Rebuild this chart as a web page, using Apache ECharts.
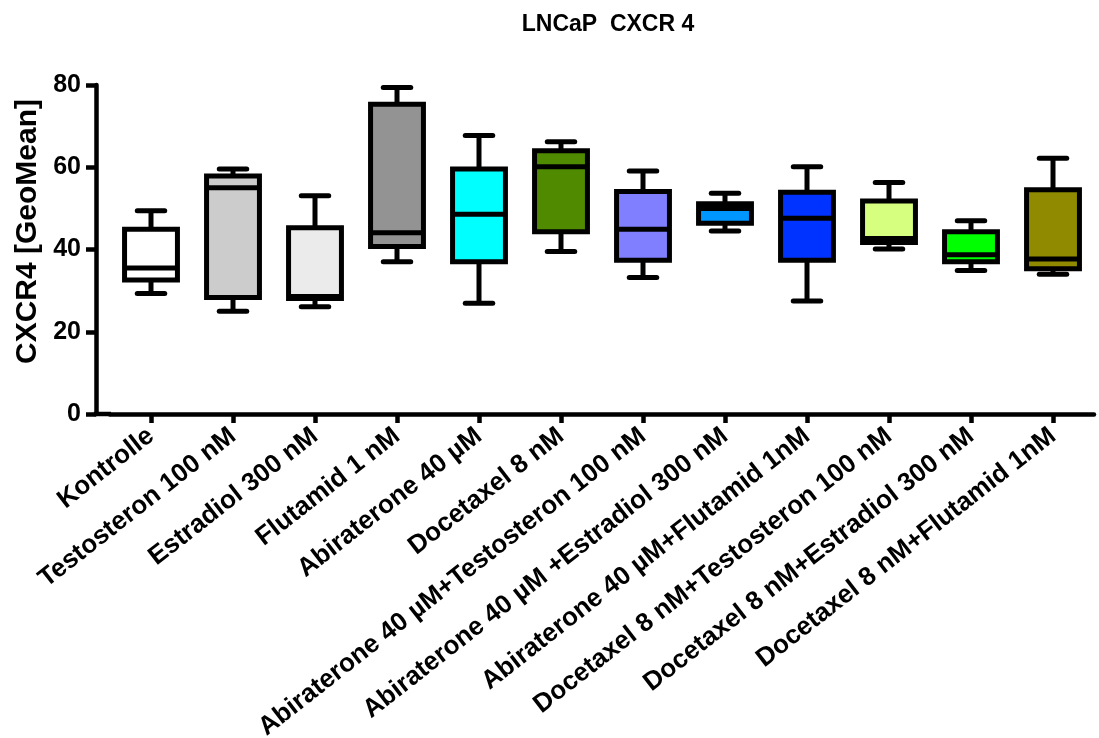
<!DOCTYPE html>
<html><head><meta charset="utf-8">
<script src="https://cdn.jsdelivr.net/npm/echarts@6/dist/echarts.min.js"></script>
<style>html,body{margin:0;padding:0;background:#fff}#c{width:1099px;height:738px}</style>
</head><body><div id="c"></div>
<script>
const categories = [
  'Kontrolle', 'Testosteron 100 nM', 'Estradiol 300 nM', 'Flutamid 1 nM',
  'Abiraterone 40 µM', 'Docetaxel 8 nM', 'Abiraterone 40 µM+Testosteron 100 nM',
  'Abiraterone 40 µM +Estradiol 300 nM', 'Abiraterone 40 µM+Flutamid 1nM',
  'Docetaxel 8 nM+Testosteron 100 nM', 'Docetaxel 8 nM+Estradiol 300 nM',
  'Docetaxel 8 nM+Flutamid 1nM'
];
const mins    = [29.3, 25.0, 26.1, 37.0, 26.9, 39.5, 33.2, 44.5, 27.5, 40.1, 34.9, 34.0];
const q1s     = [32.6, 28.3, 28.1, 40.7, 37.0, 44.3, 37.4, 46.4, 37.4, 41.7, 37.0, 35.3];
const medians = [35.5, 55.0, 28.6, 44.1, 48.6, 60.1, 44.9, 50.0, 47.6, 42.7, 38.7, 37.7];
const q3s     = [44.9, 57.9, 45.3, 75.3, 59.6, 64.0, 54.1, 51.1, 53.9, 51.8, 44.3, 54.5];
const maxs    = [49.4, 59.6, 53.1, 79.4, 67.7, 66.2, 59.1, 53.7, 60.1, 56.3, 47.0, 62.2];
const fills   = ['#ffffff', '#cccccc', '#ebebeb', '#939393', '#00ffff', '#4f8a00',
                 '#7f7fff', '#0096ff', '#0033ff', '#d7ff7f', '#00ff00', '#8f8a00'];
const yTickMin = 0, yTickMax = 80, yTickStep = 20;
const titleText = 'LNCaP  CXCR 4';
const yName = 'CXCR4 [GeoMean]';

const FONT = 'Liberation Sans, Arial, sans-serif';
const gridLeft = 110, gridRight = 5, gridTop = 85, gridBottom = 324, yOffset = 14;
const AXW = 4.5, LW = 5;

const chart = echarts.init(document.getElementById('c'), null, {renderer: 'canvas'});
const data = categories.map((c, i) => [i, mins[i], q1s[i], medians[i], q3s[i], maxs[i]]);

function renderItem(params, api) {
  const x = api.value(0);
  const pMin = api.coord([x, api.value(1)]);
  const pQ1 = api.coord([x, api.value(2)]);
  const pMed = api.coord([x, api.value(3)]);
  const pQ3 = api.coord([x, api.value(4)]);
  const pMax = api.coord([x, api.value(5)]);
  const band = api.size([1, 0])[0];
  const bw = band * 0.645, cw = band * 0.335;
  const cx = pMed[0];
  const stroke = {stroke: '#000', lineWidth: LW, lineCap: 'round'};
  const flat = {stroke: '#000', lineWidth: LW, lineCap: 'butt'};
  return {
    type: 'group',
    children: [
      {type: 'line', shape: {x1: cx, y1: pQ3[1], x2: cx, y2: pMax[1]}, style: flat},
      {type: 'line', shape: {x1: cx - cw / 2, y1: pMax[1], x2: cx + cw / 2, y2: pMax[1]}, style: stroke},
      {type: 'line', shape: {x1: cx, y1: pQ1[1], x2: cx, y2: pMin[1]}, style: flat},
      {type: 'line', shape: {x1: cx - cw / 2, y1: pMin[1], x2: cx + cw / 2, y2: pMin[1]}, style: stroke},
      {type: 'rect', shape: {x: cx - bw / 2, y: pQ3[1], width: bw, height: pQ1[1] - pQ3[1]},
        style: {fill: fills[params.dataIndex], stroke: '#000', lineWidth: LW}},
      {type: 'line', shape: {x1: cx - bw / 2, y1: pMed[1], x2: cx + bw / 2, y2: pMed[1]}, style: flat}
    ]
  };
}

const option = {
  backgroundColor: '#fff',
  animation: false,
  title: {
    text: titleText, left: 603, top: 8, textAlign: 'center',
    textStyle: {fontFamily: FONT, fontWeight: 'bold', fontSize: 23, color: '#000'}
  },
  grid: {left: gridLeft, right: gridRight, top: gridTop, bottom: gridBottom,
         containLabel: false, outerBoundsMode: 'none'},
  xAxis: {
    type: 'category', data: categories, boundaryGap: true,
    axisLine: {show: true, lineStyle: {color: '#000', width: AXW}},
    axisTick: {show: true, alignWithLabel: true, length: 9, lineStyle: {color: '#000', width: AXW}},
    axisLabel: {interval: 0, rotate: 38, margin: 19, color: '#000', fontFamily: FONT, fontWeight: 'bold', fontSize: 26},
    splitLine: {show: false}
  },
  yAxis: {
    type: 'value', min: yTickMin, max: yTickMax, interval: yTickStep, offset: yOffset,
    name: yName, nameLocation: 'middle', nameGap: 46,
    nameTextStyle: {fontFamily: FONT, fontWeight: 'bold', fontSize: 30, color: '#000', padding: [0, 0, 0, 36]},
    axisLine: {show: true, lineStyle: {color: '#000', width: AXW}},
    axisTick: {show: true, length: 10, lineStyle: {color: '#000', width: AXW}},
    axisLabel: {margin: 15, color: '#000', fontFamily: FONT, fontWeight: 'bold', fontSize: 25},
    splitLine: {show: false}
  },
  graphic: [{
    type: 'line', silent: true,
    shape: {x1: gridLeft - yOffset - AXW / 2, y1: 738 - gridBottom, x2: gridLeft + 1, y2: 738 - gridBottom},
    style: {stroke: '#000', lineWidth: AXW}
  }],
  series: [{
    type: 'custom', renderItem: renderItem, data: data,
    encode: {x: 0, y: [1, 2, 3, 4, 5]}, clip: false
  }]
};
chart.setOption(option);
</script>
</body></html>
